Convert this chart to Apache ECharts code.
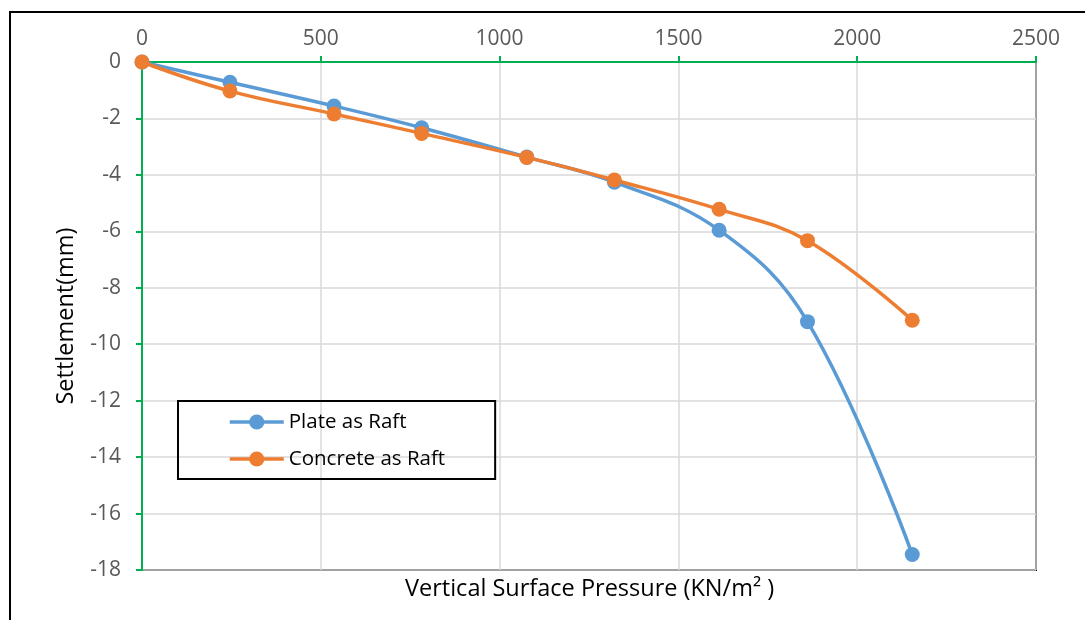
<!DOCTYPE html>
<html>
<head>
<meta charset="utf-8">
<script src="https://cdn.jsdelivr.net/npm/echarts@6/dist/echarts.min.js"></script>
<style>
  html, body { margin: 0; padding: 0; background: #fff; }
  #chart { width: 1085px; height: 620px; }
</style>
</head>
<body>
<div id="chart"></div>
<script>
// Vertical surface pressure (KN/m²) at each load step
const pressure = [0, 246, 537, 782, 1076, 1321, 1614, 1861, 2154];
// Settlement (mm) for each raft type
const plateSettlement = [0, -0.72, -1.56, -2.33, -3.37, -4.26, -5.96, -9.2, -17.45];
const concreteSettlement = [0, -1.03, -1.84, -2.53, -3.38, -4.18, -5.22, -6.33, -9.15];
// Axis tick settings
const xTicks = { min: 0, max: 2500, interval: 500 };
const yTicks = { min: -18, max: 0, interval: 2 };

const seriesNames = ['Plate as Raft', 'Concrete as Raft'];
const FONT = 'Open Sans';
const GREEN = '#00B050';

const pairs = (xs, ys) => xs.map((x, i) => [x, ys[i]]);

const chart = echarts.init(document.getElementById('chart'));
chart.setOption({
  animation: false,
  backgroundColor: '#fff',
  textStyle: { fontFamily: FONT },
  grid: {
    left: 142, top: 62, right: 49, bottom: 50,
    show: true, borderColor: '#000', borderWidth: 2, backgroundColor: 'transparent'
  },
  xAxis: {
    type: 'value',
    position: 'top',
    min: xTicks.min, max: xTicks.max, interval: xTicks.interval,
    axisLine: { show: true, onZero: false, lineStyle: { color: GREEN, width: 2 } },
    axisTick: { show: true, length: 6, lineStyle: { color: GREEN, width: 2 } },
    axisLabel: {
      color: '#595959', fontSize: 21, fontFamily: FONT, margin: 12,
      formatter: v => String(v)
    },
    splitLine: { show: true, lineStyle: { color: '#D9D9D9', width: 1.5 } }
  },
  yAxis: {
    type: 'value',
    min: yTicks.min, max: yTicks.max, interval: yTicks.interval,
    name: 'Settlement(mm)',
    nameLocation: 'middle',
    nameGap: 64,
    nameTextStyle: { color: '#000', fontSize: 23.5, fontFamily: FONT },
    axisLine: { show: true, onZero: false, lineStyle: { color: GREEN, width: 2 } },
    axisTick: { show: true, length: 6, lineStyle: { color: GREEN, width: 2 } },
    axisLabel: { color: '#595959', fontSize: 21, fontFamily: FONT, margin: 21 },
    splitLine: { show: true, lineStyle: { color: '#D9D9D9', width: 1.5 } }
  },
  legend: {
    left: 178, top: 401,
    orient: 'vertical',
    data: seriesNames,
    itemWidth: 54, itemHeight: 19, itemGap: 15,
    padding: [10, 50, 9, 50],
    borderColor: '#000', borderWidth: 2,
    lineStyle: { width: 3.5 },
    textStyle: { color: '#000', fontSize: 20.5, fontFamily: FONT, lineHeight: 22 }
  },
  graphic: [
    {
      type: 'rect',
      shape: { x: 10, y: 12, width: 1100, height: 700 },
      style: { fill: 'none', stroke: '#000', lineWidth: 2 },
      silent: true, z: 100
    },
    {
      type: 'text',
      left: 405, top: 577,
      style: {
        text: 'Vertical Surface Pressure (KN/m\u00B2 )',
        fill: '#000', fontSize: 23.5, fontFamily: FONT
      }
    }
  ],
  series: [
    {
      name: seriesNames[0], type: 'line', smooth: 0.4,
      data: pairs(pressure, plateSettlement),
      symbol: 'circle', symbolSize: 15,
      itemStyle: { color: '#5B9BD5' },
      lineStyle: { color: '#5B9BD5', width: 3.5 }
    },
    {
      name: seriesNames[1], type: 'line', smooth: 0.4,
      data: pairs(pressure, concreteSettlement),
      symbol: 'circle', symbolSize: 15,
      itemStyle: { color: '#ED7D31' },
      lineStyle: { color: '#ED7D31', width: 3.5 }
    }
  ]
});
</script>
</body>
</html>
